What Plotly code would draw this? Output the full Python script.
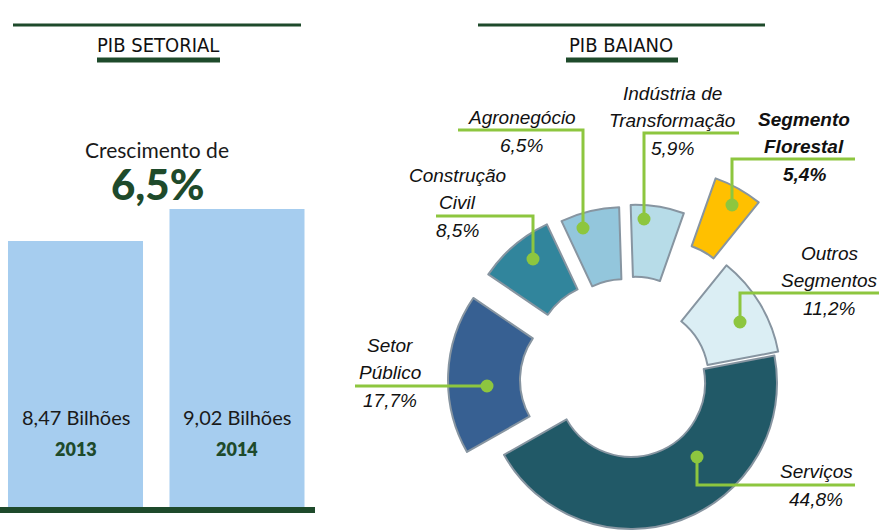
import math
import plotly.graph_objects as go

W, H = 889, 531

# ---------------- data ----------------
years = ["2013", "2014"]
pib_bilhoes = [8.47, 9.02]
pib_labels = ["8,47 Bilhões", "9,02 Bilhões"]
growth_label = "6,5%"

sectors = ["Agronegócio", "Indústria de Transformação", "Segmento Florestal",
           "Outros Segmentos", "Serviços", "Setor Público", "Construção Civil"]
shares = [6.5, 5.9, 5.4, 11.2, 44.8, 17.7, 8.5]
share_labels = ["6,5%", "5,9%", "5,4%", "11,2%", "44,8%", "17,7%", "8,5%"]

# ---------------- style ----------------
DARK = "#1e4a2b"
GREEN = "#8dc63f"
slice_colors = ["#93c6dc", "#b7dce8", "#ffc000", "#dbeef4", "#215967", "#376092", "#31859c"]
explode_px = [29, 31, 75, 5, 1.5, 36.5, 33]
C0 = (630.5, 381.5)
R = 146
HOLE = 0.507
ROT = -25.2
LABEL_FONT = "Liberation Sans, Arial, sans-serif"
TITLE_FONT = "DejaVu Sans Condensed, sans-serif"
LEFT_FONT = "Lato, Noto Sans, sans-serif"


def px(x):
    return x / W


def py(y):
    return 1 - y / H


fig = go.Figure()

# ---------------- bar chart ----------------
fig.add_trace(go.Bar(
    x=years, y=pib_bilhoes, width=0.836,
    marker=dict(color="#a6cdef", line=dict(width=0)),
    hoverinfo="x+y", showlegend=False,
))

# ---------------- donut (each slice as own trace, offset = explosion) ----------------
total = sum(shares)
cum = 0.0
for i, name in enumerate(sectors):
    mid = math.radians(ROT + (cum + shares[i] / 2) / total * 360)
    cum += shares[i]
    cx = C0[0] + explode_px[i] * math.sin(mid)
    cy = C0[1] - explode_px[i] * math.cos(mid)
    cols = [slice_colors[j] if j == i else "rgba(0,0,0,0)" for j in range(len(sectors))]
    lws = [2 if j == i else 0 for j in range(len(sectors))]
    fig.add_trace(go.Pie(
        labels=sectors, values=shares, sort=False, direction="clockwise",
        rotation=ROT, hole=HOLE, textinfo="none", showlegend=False,
        hoverinfo="label+value",
        marker=dict(colors=cols, line=dict(color="#8795a1", width=lws)),
        domain=dict(x=[px(cx - R), px(cx + R)], y=[py(cy + R), py(cy - R)]),
    ))

shapes = []
annotations = []


def hline(x0, x1, y, w, color):
    shapes.append(dict(type="line", xref="paper", yref="paper",
                       x0=px(x0), x1=px(x1), y0=py(y), y1=py(y),
                       line=dict(color=color, width=w)))


def text(t, x, baseline, size, family, color="#111111", xref="paper", weight=None):
    font = dict(family=family, size=size, color=color)
    if weight:
        font["weight"] = weight
    annotations.append(dict(
        text=t, x=x if xref != "paper" else px(x), xref=xref,
        y=py(baseline - 0.34 * size), yref="paper",
        showarrow=False, xanchor="center", yanchor="middle",
        font=font))


# titles
hline(13, 301, 25, 3, DARK)
hline(478, 765, 25, 3, DARK)
text("PIB SETORIAL", 157.5, 52, 20, TITLE_FONT)
text("PIB BAIANO", 621, 52, 20, TITLE_FONT)
hline(97, 220, 60, 5, DARK)
hline(566, 678, 60, 5, DARK)

# growth
text("Crescimento de", 157, 157, 21, LEFT_FONT, "#1a1a1a")
text(growth_label, 157, 198, 42, LEFT_FONT, DARK, weight=900)

# bar labels
for idx, (yr, lab) in enumerate(zip(years, pib_labels)):
    text(lab, idx, 424, 20, LEFT_FONT, "#1a1a1a", xref="x")
    text(yr, idx, 455, 18, LEFT_FONT, DARK, xref="x", weight=800)

hline(0, 315, 510, 6, DARK)

# donut labels: (lines, center x, first baseline, bold)
label_layout = {
    "Agronegócio": (["Agronegócio"], 521.5, 124, False),
    "Indústria de Transformação": (["Indústria de", "Transformação"], 672, 100, False),
    "Segmento Florestal": (["Segmento", "Florestal"], 804, 126, True),
    "Outros Segmentos": (["Outros", "Segmentos"], 829.5, 260, False),
    "Serviços": (["Serviços"], 816, 478, False),
    "Setor Público": (["Setor", "Público"], 389.5, 352, False),
    "Construção Civil": (["Construção", "Civil"], 457.5, 182, False),
}
pct_baseline_gap = 27
leaders = {
    "Agronegócio": [(458, 130), (583, 130), (583, 228)],
    "Indústria de Transformação": [(739, 133), (644, 133), (644, 219)],
    "Segmento Florestal": [(855, 159), (732, 159), (732, 205)],
    "Outros Segmentos": [(879, 293), (740, 293), (740, 322)],
    "Serviços": [(855, 485), (697, 485), (697, 457)],
    "Setor Público": [(355, 386), (487, 386)],
    "Construção Civil": [(436, 216), (533, 216), (533, 259)],
}

for name, pct in zip(sectors, share_labels):
    lines, cx, b0, bold = label_layout[name]
    allines = lines + [pct]
    for k, ln in enumerate(allines):
        t = "<i>" + ln + "</i>"
        if bold:
            t = "<b>" + t + "</b>"
        text(t, cx, b0 + k * pct_baseline_gap + (1 if k == len(allines) - 1 else 0), 19, LABEL_FONT)
    pts = leaders[name]
    path = "M " + " L ".join(f"{px(x)},{py(y)}" for x, y in pts)
    shapes.append(dict(type="path", xref="paper", yref="paper", path=path,
                       line=dict(color=GREEN, width=3)))
    dx, dy = pts[-1]
    r = 6.5
    shapes.append(dict(type="circle", xref="paper", yref="paper",
                       x0=px(dx - r), x1=px(dx + r), y0=py(dy + r), y1=py(dy - r),
                       fillcolor=GREEN, line=dict(width=0)))

fig.update_layout(
    width=W, height=H, margin=dict(l=0, r=0, t=0, b=0),
    paper_bgcolor="white", plot_bgcolor="white",
    xaxis=dict(domain=[0, px(315)], range=[-0.4675, 1.483], visible=False, type="category"),
    yaxis=dict(domain=[py(507), py(150)], range=[3.898, 10.034], visible=False),
    shapes=shapes, annotations=annotations,
)

fig.write_html("out.html", config={"displayModeBar": False},
               post_script="document.body.style.margin='0';")
